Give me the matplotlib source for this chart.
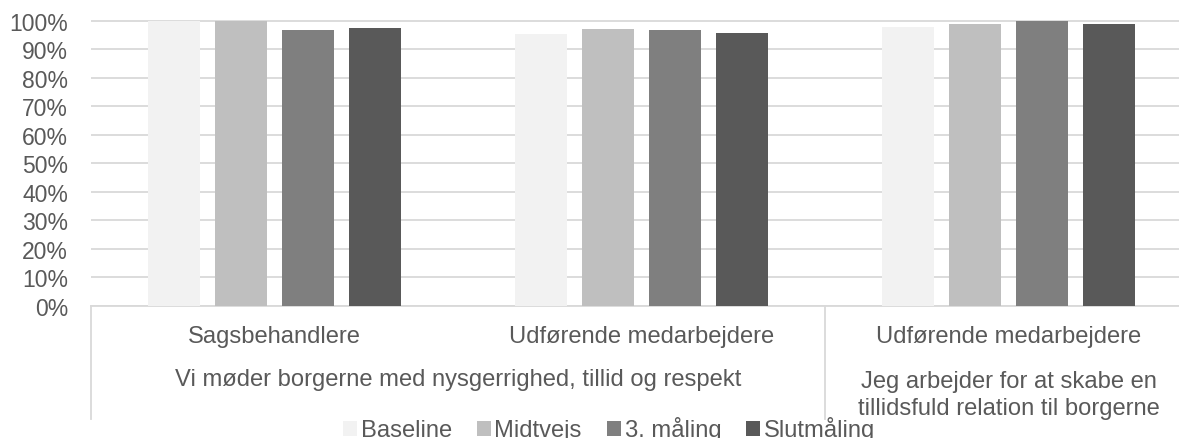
import matplotlib
matplotlib.use("Agg")
import matplotlib.pyplot as plt
import matplotlib.transforms as mtransforms
from matplotlib.lines import Line2D
from matplotlib.patches import Patch
import numpy as np

plt.rcParams['font.family'] = ['Liberation Sans', 'DejaVu Sans']

# ---- data ----
sub_labels = ["Sagsbehandlere", "Udførende medarbejdere", "Udførende medarbejdere"]
group_labels = ["Vi møder borgerne med nysgerrighed, tillid og respekt",
                "Jeg arbejder for at skabe en\ntillidsfuld relation til borgerne"]
group_spans = [(0, 1), (2, 2)]
series_names = ["Baseline", "Midtvejs", "3. måling", "Slutmåling"]
baseline = [100.0, 95.3, 97.8]
midtvejs = [100.0, 97.0, 98.9]
maaling3 = [96.8, 96.8, 100.0]
slut = [97.3, 95.6, 98.8]
yticks = list(range(0, 101, 10))

series = [baseline, midtvejs, maaling3, slut]
colors = ["#F2F2F2", "#BFBFBF", "#7F7F7F", "#595959"]
text_color = "#595959"
grid_color = "#D9D9D9"

W, H = 1179, 439
fig = plt.figure(figsize=(W / 100, H / 100), dpi=100)

left_px, cat_px = 91, 367
bottom_px, px_per_100 = 307, 285.3
ymax = 101
ax_h = px_per_100 * ymax / 100
ax = fig.add_axes([left_px / W, (H - bottom_px) / H, 3 * cat_px / W, ax_h / H])

x = np.arange(len(sub_labels))
pitch = 67 / cat_px
bw = 52 / cat_px
for i, (vals, c, name) in enumerate(zip(series, colors, series_names)):
    ax.bar(x + (i - 1.5) * pitch, vals, width=bw, color=c, label=name, zorder=3)

ax.set_xlim(-0.5, 2.5)
ax.set_ylim(0, ymax)
ax.set_yticks(yticks)
ax.set_yticklabels([f"{t}%" for t in yticks])
ax.tick_params(axis='y', length=0, pad=16.5, labelsize=16.5, labelcolor=text_color)
ax.set_xticks([])
ax.grid(axis='y', color=grid_color, linewidth=1.3, zorder=0)
ax.set_axisbelow(True)
for s in ["top", "right", "left"]:
    ax.spines[s].set_visible(False)
ax.spines["bottom"].set_color(grid_color)
ax.spines["bottom"].set_linewidth(1.3)

FS = 17.1

def fig_y(py):
    return (H - py) / H

trans = mtransforms.blended_transform_factory(ax.transData, fig.transFigure)
for xi, lab in zip(x, sub_labels):
    ax.text(xi, fig_y(343), lab, transform=trans, ha='center', va='baseline',
            fontsize=FS, color=text_color)
for (a, b), lab in zip(group_spans, group_labels):
    lines = lab.split("\n")
    if len(lines) == 1:
        base = [386]
    else:
        base = [388, 415]
    for ln, by in zip(lines, base):
        ax.text((a + b) / 2, fig_y(by), ln, transform=trans, ha='center', va='baseline',
                fontsize=FS, color=text_color)
# separators
for xs in [-0.5, 1.5]:
    ax.add_line(Line2D([xs, xs], [fig_y(bottom_px), fig_y(420)], transform=trans,
                       color=grid_color, linewidth=1.3, clip_on=False))

handles = [Patch(facecolor=c, edgecolor='none') for c in colors]
fig.legend(handles, series_names, loc='center', bbox_to_anchor=(609 / W, fig_y(430)),
           ncol=4, frameon=False, fontsize=FS, handlelength=0.6, handleheight=0.6,
           handletextpad=0.15, columnspacing=1.05, labelcolor=text_color, borderpad=0)

fig.savefig("out.png", dpi=100)
